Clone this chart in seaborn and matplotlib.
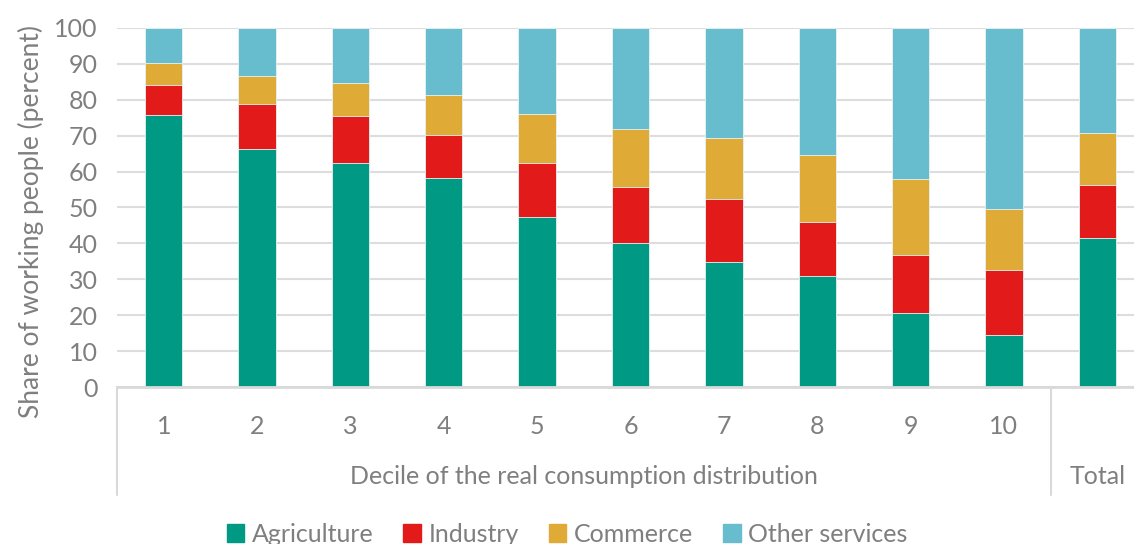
import pandas as pd
import matplotlib
matplotlib.use("Agg")
import matplotlib.pyplot as plt
import matplotlib.patches as mpatches
import matplotlib.transforms as mtransforms
import seaborn as sns

# data (percent of working people)
groups = ["1", "2", "3", "4", "5", "6", "7", "8", "9", "10", "Total"]
tick_labels = ["1", "2", "3", "4", "5", "6", "7", "8", "9", "10", ""]
agriculture = [75.7, 66.2, 62.5, 58.2, 47.4, 40.0, 34.7, 30.8, 20.6, 14.6, 41.4]
industry = [8.5, 12.7, 12.9, 12.1, 14.9, 15.8, 17.7, 15.2, 16.2, 18.1, 15.0]
commerce = [6.1, 7.8, 9.2, 11.0, 13.8, 16.1, 17.0, 18.6, 21.1, 17.0, 14.4]
other_services = [9.7, 13.3, 15.4, 18.7, 23.9, 28.1, 30.6, 35.4, 42.1, 50.3, 29.2]

sectors = ["Agriculture", "Industry", "Commerce", "Other services"]
colors = ["#009983", "#E31A1A", "#DFAA36", "#67BCCE"]

df = pd.DataFrame({"group": groups, "Agriculture": agriculture, "Industry": industry,
                   "Commerce": commerce, "Other services": other_services})
# cumulative tops for stacking
cum = df[sectors].cumsum(axis=1)
cum["group"] = df["group"]

sns.set_theme(style="white")
plt.rcParams["font.family"] = ["Lato", "DejaVu Sans"]
grey = "#7F7F7F"
fsize = 18

fig = plt.figure(figsize=(11.34, 5.44), dpi=100)
ax = fig.add_axes([0.1032, 0.2886, 0.9056, 0.66])

# draw tallest stack first so the lower segments sit on top
for sector, col in reversed(list(zip(sectors, colors))):
    sns.barplot(data=cum, x="group", y=sector, order=groups, color=col,
                saturation=1, width=0.4, edgecolor="#e8f4f4", linewidth=0.6, ax=ax)

ax.set_xlim(-0.5, len(groups) - 0.5)
ax.set_ylim(0, 100)
ax.set_yticks(range(0, 101, 10))
ax.yaxis.grid(True, color="#DDDDDD", linewidth=1.5)
ax.set_axisbelow(True)
for s in ["top", "right", "left"]:
    ax.spines[s].set_visible(False)
ax.spines["bottom"].set_color("#D9D9D9")
ax.spines["bottom"].set_linewidth(2)

ax.set_xticks(range(len(groups)))
ax.set_xticklabels(tick_labels)
ax.tick_params(axis="x", length=0, pad=20, labelsize=fsize, labelcolor=grey)
ax.tick_params(axis="y", length=0, pad=14, labelsize=fsize, labelcolor=grey)
ax.set_xlabel("")
ax.set_ylabel("Share of working people (percent)", fontsize=19, color=grey)
ax.yaxis.set_label_coords(-0.071, 0.46)

# two-level category axis
trans = mtransforms.blended_transform_factory(ax.transData, ax.transAxes)
for xs in [-0.5, 9.5, 10.5]:
    ax.plot([xs, xs], [0, -0.30], transform=trans, color="#D9D9D9", lw=1.5, clip_on=False)
ax.text(4.5, -0.25, "Decile of the real consumption distribution", transform=trans,
        ha="center", va="center", fontsize=fsize, color=grey)
ax.text(10, -0.25, "Total", transform=trans, ha="center", va="center",
        fontsize=fsize, color=grey)

handles = [mpatches.Patch(color=c, label=s) for s, c in zip(sectors, colors)]
fig.legend(handles=handles, loc="center", bbox_to_anchor=(0.5, 0.018), ncol=4,
           frameon=False, fontsize=fsize, labelcolor=grey, handlelength=0.7,
           handleheight=0.7, handletextpad=0.3, columnspacing=1.2)

fig.savefig("out.png", dpi=100)
